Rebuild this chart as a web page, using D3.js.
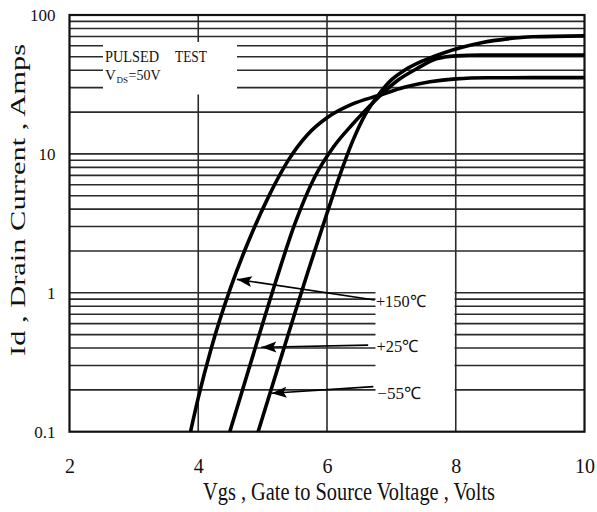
<!DOCTYPE html>
<html>
<head>
<meta charset="utf-8">
<script src="https://cdn.jsdelivr.net/npm/d3@7/dist/d3.min.js"></script>
<style>
  html, body { margin: 0; padding: 0; background: #fff; }
  svg { display: block; }
  text { font-family: "Liberation Serif", "Times New Roman", serif; fill: #111; }
</style>
</head>
<body>
<svg id="chart" width="597" height="512"></svg>
<script>
// ---------- data ----------
const xTicks = [2, 4, 6, 8, 10];
const xTickLabels = ["2", "4", "6", "8", "10"];
const yTicks = [0.1, 1, 10, 100];
const yTickLabels = ["0.1", "1", "10", "100"];
const vGridValues = [4, 6, 8];
const hGridValues = [0.2,0.3,0.4,0.5,0.6,0.7,0.8,0.9,1,2,3,4,5,6,7,8,9,10,20,30,40,50,60,70,80,90];

const seriesNames = ["+150℃", "+25℃", "−55℃"];
// Vgs (V), Id (A)
const curve150 = [[3.88,0.1],[4.0,0.175],[4.2,0.396],[4.5,1.08],[4.8,2.47],[5.1,5.01],[5.4,9.02],[5.7,13.8],[6.0,18.2],[6.4,22.9],[6.8,26.3],[7.2,30.2],[7.6,33.1],[8.0,34.7],[8.5,35.3],[9.2,35.4],[10,35.4]];
const curve25  = [[4.49,0.1],[4.7,0.209],[4.9,0.422],[5.2,1.19],[5.5,3.13],[5.8,6.68],[6.1,11.2],[6.4,16.4],[6.8,25.6],[7.1,33.9],[7.4,41.2],[7.7,48.4],[8.0,50.8],[8.4,51.5],[10,51.5]];
const curveM55 = [[4.93,0.1],[5.1,0.18],[5.3,0.359],[5.5,0.713],[5.7,1.40],[6.0,3.74],[6.2,7.04],[6.4,12.4],[6.6,19.4],[6.8,26.6],[7.0,34.1],[7.2,39.9],[7.5,47.0],[7.8,53.1],[8.1,58.5],[8.4,63.1],[8.8,67.3],[9.2,69.7],[10,70.8]];
const curves = [curve150, curve25, curveM55];

// annotation arrows
const arrowTips  = [[4.60,1.25],[4.98,0.405],[5.14,0.189]];
const arrowTails = [[6.74,0.887],[6.64,0.42],[6.72,0.211]];
const labelPos   = [[6.76,0.87],[6.77,0.415],[6.78,0.19]];

const legendLine1 = ["PULSED", "TEST"];
const legendLine2 = ["V", "DS", "=50V"];
const xTitle = "Vgs , Gate to Source Voltage , Volts";
const yTitle = "Id , Drain Current , Amps";

// ---------- layout ----------
const svg = d3.select("#chart");
const x = d3.scaleLinear().domain([2, 10]).range([69.5, 584.5]);
const y = d3.scaleLog().domain([0.1, 100]).range([431.7, 15]);

const grid = svg.append("g");
grid.selectAll("line.h").data(hGridValues).join("line")
  .attr("x1", x(2)).attr("x2", x(10))
  .attr("y1", d => y(d)).attr("y2", d => y(d))
  .attr("stroke", "#2a2a2a").attr("stroke-width", 1.6);
grid.selectAll("line.v").data(vGridValues).join("line")
  .attr("x1", d => x(d)).attr("x2", d => x(d))
  .attr("y1", y(0.1)).attr("y2", y(100))
  .attr("stroke", "#2a2a2a").attr("stroke-width", 1.6);

// white areas that break the grid (legend box and label area)
svg.append("rect").attr("x", 103).attr("y", 42).attr("width", 134).attr("height", 52.5).attr("fill", "#fff");
svg.append("rect").attr("x", 375.5).attr("y", 288).attr("width", x(8) - 1.2 - 375.5).attr("height", 141).attr("fill", "#fff");

// frame
svg.append("rect").attr("x", x(2)).attr("y", y(100))
  .attr("width", x(10) - x(2)).attr("height", y(0.1) - y(100))
  .attr("fill", "none").attr("stroke", "#111").attr("stroke-width", 2.2);

// axes (labels only)
const xAxis = d3.axisBottom(x).tickValues(xTicks).tickSize(0)
  .tickFormat((d, i) => xTickLabels[i]);
const gx = svg.append("g").attr("transform", `translate(0,${y(0.1)})`).call(xAxis);
gx.select(".domain").remove();
gx.selectAll("text").attr("dy", 0).attr("y", 41)
  .style("font-family", '"Liberation Serif", serif').style("font-size", "20px").attr("fill", "#111");

const yAxis = d3.axisLeft(y).tickValues(yTicks).tickSize(0)
  .tickFormat((d, i) => yTickLabels[i]);
const gy = svg.append("g").attr("transform", `translate(${x(2)},0)`).call(yAxis);
gy.select(".domain").remove();
gy.selectAll("text").attr("x", -14).attr("dy", "0.35em")
  .style("font-family", '"Liberation Serif", serif').style("font-size", "17px").attr("fill", "#111");

// curves
const line = d3.line().x(d => x(d[0])).y(d => y(d[1])).curve(d3.curveMonotoneX);
svg.append("g").selectAll("path").data(curves).join("path")
  .attr("d", line).attr("fill", "none").attr("stroke", "#000")
  .attr("stroke-width", 3.6).attr("stroke-linejoin", "round");

// arrows
svg.append("g").selectAll("line").data(arrowTips).join("line")
  .attr("x1", d => x(d[0])).attr("y1", d => y(d[1]))
  .attr("x2", (d, i) => x(arrowTails[i][0])).attr("y2", (d, i) => y(arrowTails[i][1]))
  .attr("stroke", "#000").attr("stroke-width", 1.6);
svg.append("g").selectAll("path").data(arrowTips).join("path")
  .attr("d", (d, i) => {
    const x0 = x(d[0]), y0 = y(d[1]);
    const x1 = x(arrowTails[i][0]), y1 = y(arrowTails[i][1]);
    const a = Math.atan2(y1 - y0, x1 - x0);
    const L = 15, W = 5.5;
    const bx = x0 + L * Math.cos(a), by = y0 + L * Math.sin(a);
    const nx = -Math.sin(a) * W, ny = Math.cos(a) * W;
    const mx = x0 + (L - 3) * Math.cos(a), my = y0 + (L - 3) * Math.sin(a);
    return `M${x0},${y0} L${bx + nx},${by + ny} L${mx},${my} L${bx - nx},${by - ny} Z`;
  })
  .attr("fill", "#000");

// series labels
svg.append("g").selectAll("text").data(labelPos).join("text")
  .attr("x", d => x(d[0])).attr("y", d => y(d[1])).attr("dy", "0.35em")
  .style("font-size", "17px").attr("textLength", (d, i) => [50, 42, 44][i])
  .attr("lengthAdjust", "spacingAndGlyphs")
  .text((d, i) => seriesNames[i]);

// legend text
const lg = svg.append("g");
const t1 = lg.append("text").attr("y", 62).style("font-size", "16px");
t1.append("tspan").attr("x", 105).attr("textLength", 54).attr("lengthAdjust", "spacingAndGlyphs").text(legendLine1[0]);
t1.append("tspan").attr("x", 175).attr("textLength", 32).attr("lengthAdjust", "spacingAndGlyphs").text(legendLine1[1]);
lg.append("text").attr("x", 105).attr("y", 80).style("font-size", "15px").text(legendLine2[0]);
lg.append("text").attr("x", 116.5).attr("y", 82.5).style("font-size", "9px").text(legendLine2[1]);
lg.append("text").attr("x", 128.5).attr("y", 80).style("font-size", "14px").text(legendLine2[2]);

// axis titles
svg.append("text").attr("x", 349).attr("y", 500).attr("text-anchor", "middle")
  .style("font-size", "25px").attr("textLength", 292).attr("lengthAdjust", "spacingAndGlyphs")
  .text(xTitle);
svg.append("text").attr("transform", "translate(25,200) rotate(-90)").attr("text-anchor", "middle")
  .style("font-size", "22px").attr("textLength", 312).attr("lengthAdjust", "spacingAndGlyphs")
  .text(yTitle);
</script>
</body>
</html>
